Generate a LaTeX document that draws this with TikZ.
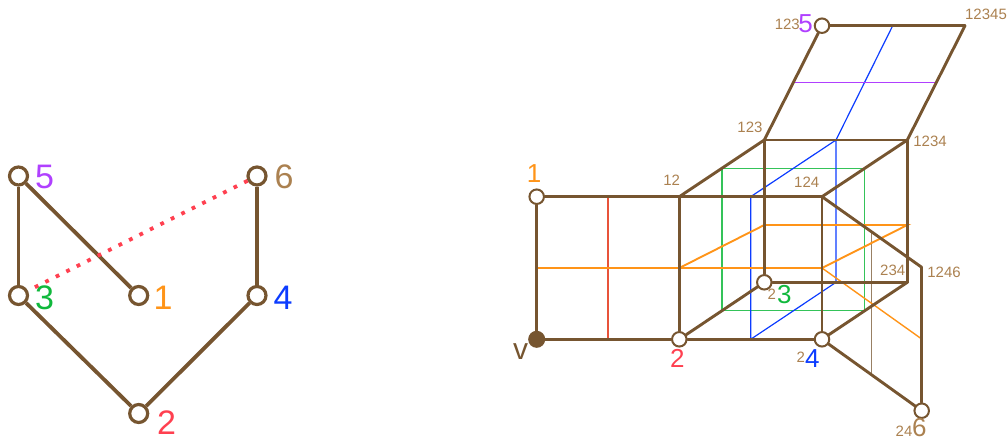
\documentclass[tikz,border=0pt]{standalone}
\usepackage{fontspec}
\setmainfont{Liberation Sans}
\definecolor{edgebrown}{HTML}{765530}
\definecolor{tagtan}{HTML}{AB8150}
\definecolor{lineorange}{HTML}{FF9418}
\definecolor{linered}{HTML}{E8533A}
\definecolor{labred}{HTML}{FF4050}
\definecolor{labgreen}{HTML}{10B83C}
\definecolor{labblue}{HTML}{0C3CFF}
\definecolor{labpurple}{HTML}{B040FF}
\tikzset{
  bigvert/.style={circle, draw=edgebrown, fill=white, line width=3.2pt, minimum size=18pt, inner sep=0pt},
  smallvert/.style={circle, draw=edgebrown, fill=white, line width=2pt, minimum size=14.5pt, inner sep=0pt},
  bigedge/.style={draw=edgebrown, line width=3.8pt},
  smalledge/.style={draw=edgebrown, line width=2.9pt},
  midline/.style={line width=1.4pt},
  biglab/.style={inner sep=0pt, font=\fontsize{34}{34}\selectfont},
  digit/.style={inner sep=0pt, font=\fontsize{26}{26}\selectfont},
  tag/.style={inner sep=0pt, text=tagtan, font=\fontsize{15}{15}\selectfont}
}
\begin{document}
\begin{tikzpicture}[x=1pt, y=-1pt]
  \useasboundingbox (0,0) rectangle (1007,440);
  % left graph
  \node[bigvert] (a5) at (18.5,176) {};
  \node[bigvert] (a6) at (257,176) {};
  \node[bigvert] (a3) at (18.5,295.5) {};
  \node[bigvert] (a1) at (138.7,295.5) {};
  \node[bigvert] (a4) at (257,295.5) {};
  \node[bigvert] (a2) at (138.7,413.5) {};
  \foreach \p/\q in {a5/a3, a5/a1, a6/a4, a3/a2, a4/a2} \draw[bigedge] (\p) -- (\q);
  \draw[labred, line width=3.8pt, dash pattern=on 3.8pt off 7.9pt] (a6) -- (a3);
  \node[biglab, text=labpurple] (la5) at (44.7,176.7) {5};
  \node[biglab, text=tagtan] (la6) at (284,176.7) {6};
  \node[biglab, text=labgreen] (la3) at (44.7,298) {3};
  \node[biglab, text=lineorange] (la1) at (163,298) {1};
  \node[biglab, text=labblue] (la4) at (283,298) {4};
  \node[biglab, text=labred] (la2) at (166.7,422.7) {2};
  % corners of the cube
  \coordinate (b12) at (679.3,196.7);
  \coordinate (b123) at (764.3,140);
  \coordinate (b124) at (822,196.7);
  \coordinate (b234) at (907.3,282.3);
  \coordinate (b1234) at (907.3,140);
  \coordinate (b1246) at (921.7,267.3);
  \coordinate (b12345) at (965,25.7);
  % ends of the thin lines
  \coordinate (r1) at (608,196.7);
  \coordinate (r2) at (608,339.3);
  \coordinate (o1) at (536.7,268);
  \coordinate (o2) at (822,268);
  \coordinate (o3) at (679.3,268);
  \coordinate (o4) at (764.3,225);
  \coordinate (o5) at (907.3,225);
  \coordinate (o6) at (921.7,339);
  \coordinate (g1) at (722,168.3);
  \coordinate (g2) at (864.7,310.7);
  \coordinate (u1) at (750.7,196.7);
  \coordinate (u2) at (750.7,339.3);
  \coordinate (u3) at (836,282.3);
  \coordinate (u4) at (836,140);
  \coordinate (u5) at (892.7,25.7);
  \coordinate (p1) at (794.3,82.3);
  \coordinate (p2) at (935,82.3);
  \coordinate (t1) at (871.7,232);
  \coordinate (t2) at (871.7,374);
  \draw[midline, draw=labgreen!85!white] (g1) rectangle (g2);
  \draw[midline, draw=labblue, line width=1.2pt] (u1) -- (u2) -- (u3) -- (u4) -- (u1);
  \draw[midline, draw=labblue, line width=1.2pt] (u4) -- (u5);
  \draw[midline, draw=labpurple] (p1) -- (p2);
  \draw[midline, draw=edgebrown!75!white, line width=1.2pt] (t1) -- (t2);
  \draw[midline, draw=linered, line width=1.7pt] (r1) -- (r2);
  \draw[midline, draw=lineorange, line width=1.9pt] (o1) -- (o2) -- (o5) -- (o4) -- (o3);
  \draw[midline, draw=lineorange] (o2) -- (o6);
  % vertices of the right graph
  \node[smallvert] (c1) at (536.7,196.7) {};
  \node[smallvert, fill=edgebrown, minimum size=15pt] (cv) at (536.7,339.3) {};
  \node[smallvert] (c2) at (679.3,339.3) {};
  \node[smallvert] (c3) at (764.3,282.3) {};
  \node[smallvert] (c4) at (822,339.3) {};
  \node[smallvert] (c5) at (822,25.7) {};
  \node[smallvert] (c6) at (921.7,410.7) {};
  \foreach \p/\q in {c1/b12, b12/b124, c1/cv, cv/c2, c2/c4, b12/c2, b124/c4, b12/b123,
      c2/c3, b124/b1234, c4/b234, b123/b1234, c3/b234, b123/c3, b1234/b234,
      b123/c5, c5/b12345, b12345/b1234, b124/b1246, b1246/c6, c4/c6}
    \draw[smalledge, line cap=round] (\p) -- (\q);
  % labels
  \node[digit, text=lineorange] (lc1) at (534,174) {1};
  \node[digit, text=edgebrown, font=\fontsize{30}{30}\selectfont] (lcv) at (520.7,352) {v};
  \node[digit, text=labred] (lc2) at (677.3,358.3) {2};
  \node[tag] (l12) at (671.7,180) {12};
  \node[tag] (l123) at (750,127) {123};
  \node[tag] (l124) at (806.7,182.7) {124};
  \node[tag] (l1234) at (930,141.7) {1234};
  \node[tag] (l234) at (892.7,270.7) {234};
  \node[tag] (l1246) at (944,272.7) {1246};
  \node[tag] (l12345) at (986,14.3) {12345};
  \node[tag] (ls3) at (771.7,294.3) {2};
  \node[digit, text=labgreen] (lc3) at (784.3,294.3) {3};
  \node[tag] (ls4) at (800.7,357.3) {2};
  \node[digit, text=labblue] (lc4) at (812.3,358.3) {4};
  \node[tag] (ls6) at (904,431) {24};
  \node[digit, text=tagtan] (lc6) at (919.3,427.5) {6};
  \node[tag] (ls5) at (787.3,24.3) {123};
  \node[digit, text=labpurple] (lc5) at (805.7,23.3) {5};
\end{tikzpicture}
\end{document}
